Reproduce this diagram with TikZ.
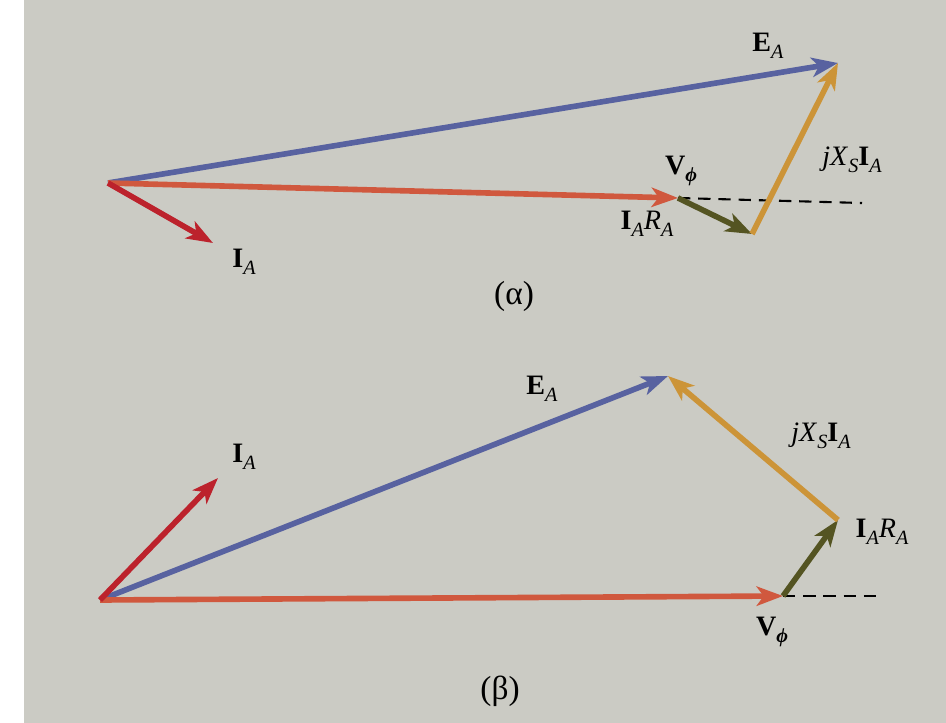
\documentclass[tikz,border=0pt]{standalone}
\usepackage{fontspec}
\setmainfont{Liberation Serif}
\usetikzlibrary{arrows.meta}

\definecolor{paper}{RGB}{203,203,196}
\definecolor{eacol}{RGB}{88,98,160}
\definecolor{vcol}{RGB}{208,88,62}
\definecolor{iacol}{RGB}{188,34,44}
\definecolor{rcol}{RGB}{84,84,34}
\definecolor{xcol}{RGB}{204,148,56}

\newcommand{\lowsub}[1]{\raisebox{-0.5ex}{\fontsize{11.5}{13}\selectfont\itshape #1}}

\tikzset{
  phasor/.style={line width=3.2pt, -{Stealth[length=15pt,width=11pt,inset=4pt]}},
  lbl/.style={font=\fontsize{16}{18}\selectfont, inner sep=1pt},
  caption/.style={font=\fontsize{19}{21}\selectfont},
  guide/.style={line width=1.2pt, dash pattern=on 7pt off 4.5pt}
}

\begin{document}
\begin{tikzpicture}[x=0.02cm,y=-0.02cm]
  \useasboundingbox (0,0) rectangle (946,723);
  \fill[white] (0,0) rectangle (946,723);
  \fill[paper] (24,0) rectangle (946,723);

  % (alpha)
  \coordinate (oa) at (108,183);
  \coordinate (va) at (678,198);
  \coordinate (ra) at (752,234);
  \coordinate (ea) at (838,63);
  \coordinate (ia) at (213,243);
  \coordinate (da) at (862,203);
  \draw[guide] (va) -- (da);
  \draw[phasor, eacol] (oa) -- (ea);
  \draw[phasor, vcol] (oa) -- (va);
  \draw[phasor, iacol] (oa) -- (ia);
  \draw[phasor, rcol] (va) -- (ra);
  \draw[phasor, xcol] (ra) -- (ea);
  \node[lbl] (ealbl) at (768,46) {\textbf{E}\lowsub{A}};
  \node[lbl] (valbl) at (681,171) {\textbf{V}\lowsub{\textbf{ϕ}}};
  \node[lbl] (xalbl) at (852,160) {\textit{jX}\lowsub{S}\textbf{I}\lowsub{A}};
  \node[lbl] (ralbl) at (647,224) {\textbf{I}\lowsub{A}\textit{R}\lowsub{A}};
  \node[lbl] (ialbl) at (244,262) {\textbf{I}\lowsub{A}};
  \node[caption] (capa) at (514,296) {(α)};

  % (beta)
  \coordinate (ob) at (100,600);
  \coordinate (vb) at (783,596);
  \coordinate (rb) at (838,520);
  \coordinate (eb) at (668,376);
  \coordinate (ib) at (218,478);
  \coordinate (db) at (880,596);
  \draw[guide] (vb) -- (db);
  \draw[phasor, eacol] (ob) -- (eb);
  \draw[phasor, vcol] (ob) -- (vb);
  \draw[phasor, iacol] (ob) -- (ib);
  \draw[phasor, rcol] (vb) -- (rb);
  \draw[phasor, xcol] (rb) -- (eb);
  \node[lbl] (eblbl) at (542,389) {\textbf{E}\lowsub{A}};
  \node[lbl] (iblbl) at (244,457) {\textbf{I}\lowsub{A}};
  \node[lbl] (xblbl) at (821,436) {\textit{jX}\lowsub{S}\textbf{I}\lowsub{A}};
  \node[lbl] (rblbl) at (882,532) {\textbf{I}\lowsub{A}\textit{R}\lowsub{A}};
  \node[lbl] (vblbl) at (772,632) {\textbf{V}\lowsub{\textbf{ϕ}}};
  \node[caption] (capb) at (500,691) {(β)};
\end{tikzpicture}
\end{document}
